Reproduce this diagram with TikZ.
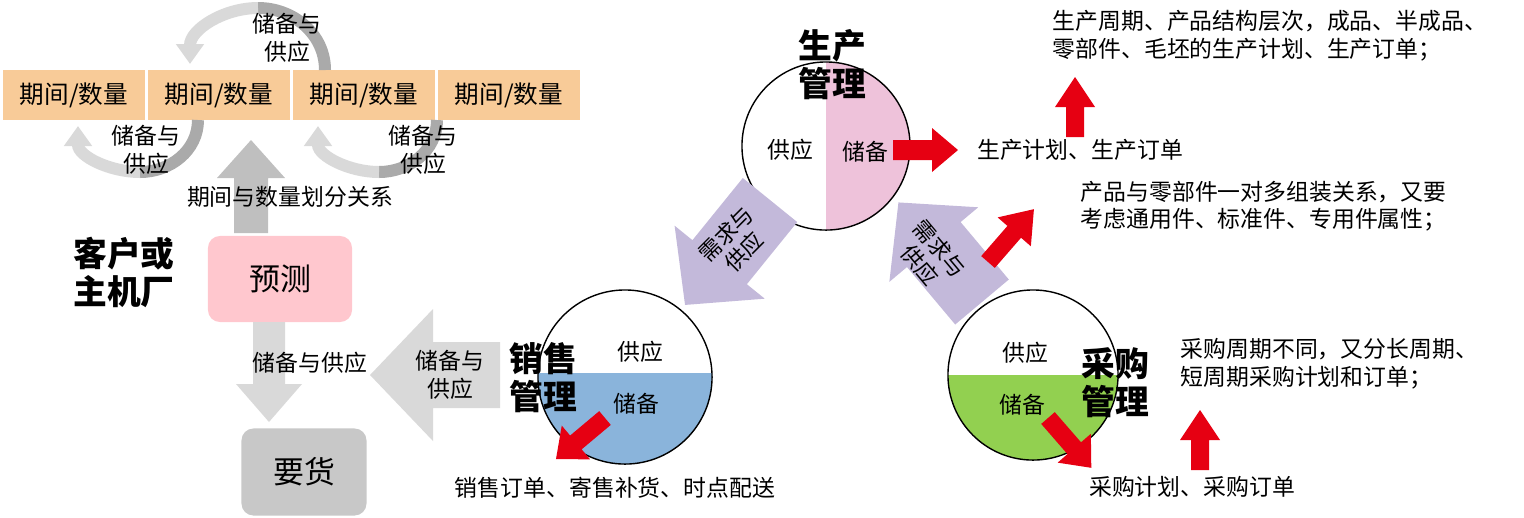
\documentclass[tikz,border=0pt]{standalone}
\usepackage{fontspec}
\setmainfont{Noto Sans CJK SC}
\usetikzlibrary{calc}
\usetikzlibrary{arrows.meta}
\usetikzlibrary{positioning}
\definecolor{peach}{RGB}{248, 203, 152}
\definecolor{rose}{RGB}{255, 199, 206}
\definecolor{stone}{RGB}{200, 200, 200}
\definecolor{lilac}{RGB}{195, 185, 218}
\definecolor{signal}{RGB}{230, 0, 18}
\definecolor{orchid}{RGB}{238, 194, 218}
\definecolor{sky}{RGB}{138, 180, 219}
\definecolor{leaf}{RGB}{146, 208, 80}
\definecolor{ash}{RGB}{217, 217, 217}
\definecolor{slate}{RGB}{170, 170, 170}
% block arrow: colour, start, angle, length, half shaft, half head, head length
\newcommand{\blockarr}[7]{%
  \fill[#1, shift={(#2)}, rotate=#3] (0,-#5) -- ({#4-#7},-#5) -- ({#4-#7},-#6) -- (#4,0)
       -- ({#4-#7},#6) -- ({#4-#7},#5) -- (0,#5) -- cycle;}
\tikzset{
  txt/.style={font=\fontsize{6.5}{7.9}\selectfont, inner sep=0pt, align=center},
  note/.style={txt, align=left, anchor=north west},
  head/.style={font=\fontsize{9.6}{10.8}\selectfont\bfseries, inner sep=0pt, align=left},
  period/.style={fill=peach, minimum width=1.42cm, minimum height=0.5cm, inner sep=0pt,
                 font=\fontsize{7}{8}\selectfont},
  loopdark/.style={draw=slate, line width=0.12cm},
  looplight/.style={draw=ash, line width=0.12cm, -{Triangle[width=0.27cm,length=0.2cm]}},
  disc/.style={draw, thin, circle, minimum size=1.68cm, inner sep=0pt},
  boxtxt/.style={font=\fontsize{8.8}{10}\selectfont}
}
\begin{document}
\begin{tikzpicture}[x=0.01cm, y=-0.01cm]
\useasboundingbox (0,0) rectangle (1524,517);
% period boxes
\node[period] (p1) at (74,95) {期间/数量};
\node[period] (p2) at (219,95) {期间/数量};
\node[period] (p3) at (364,95) {期间/数量};
\node[period] (p4) at (509,95) {期间/数量};
% loops
\draw[loopdark] (325,70) to[out=90,in=0] (258,8);
\draw[looplight] (258,8) to[out=180,in=90] (190,64);
\draw[loopdark] (198,120) to[out=-90,in=0] (140,172);
\draw[looplight] (140,172) to[out=180,in=-90] (78,126);
\draw[loopdark] (437,120) to[out=-90,in=0] (379,172);
\draw[looplight] (379,172) to[out=180,in=-90] (318,126);
\node[txt] (l1) at (287,38) {储备与\\供应};
\node[txt] (l2) at (146,150) {储备与\\供应};
\node[txt] (l3) at (423,150) {储备与\\供应};
% customer side
\blockarr{black!25}{251,233}{90}{93}{17}{34}{38}
\node[txt] (split) at (290,197) {期间与数量划分关系};
\node[fill=rose, rounded corners=0.12cm, minimum width=1.44cm, minimum height=0.86cm,
      boxtxt] (fc) at (280,279) {预测};
\node[head] (cust) at (124,272) {客户或\\主机厂};
\blockarr{ash}{269,322}{270}{100}{16}{33}{38}
\node[txt] (rs) at (310,363) {储备与供应};
\node[fill=stone, rounded corners=0.12cm, minimum width=1.25cm, minimum height=0.87cm,
      boxtxt] (dem) at (304,472) {要货};
\blockarr{ash}{500,375}{180}{130}{33}{66}{63}
\node[txt] (rs2) at (450,375) {储备与\\供应};
% sales
\begin{scope}
  \clip (625,377) circle[radius=0.87cm];
  \fill[sky] (530,373) rectangle (720,470);
\end{scope}
\node[disc, minimum size=1.74cm] (sales) at (625,377) {};
\node[head] (salesh) at (543,378) {销售\\管理};
\node[txt] (s1) at (640,352) {供应};
\node[txt] (s2) at (636,404) {储备};
\blockarr{signal}{605,418}{220}{64}{9}{22}{26}
\node[txt] (s3) at (615,488) {销售订单、寄售补货、时点配送};
% production
\begin{scope}
  \clip (826,146) circle[radius=0.84cm];
  \fill[orchid] (826,50) rectangle (920,240);
\end{scope}
\node[disc] (prod) at (826,146) {};
\node[head] (prodh) at (832,65) {生产\\管理};
\node[txt] (pr1) at (790,150) {供应};
\node[txt] (pr2) at (865,152) {储备};
\blockarr{signal}{893,150}{0}{65}{10}{22}{26}
\node[txt] (pr3) at (1080,150) {生产计划、生产订单};
\blockarr{signal}{1075,137}{90}{60}{9}{20}{30}
\node[note] (pr4) at (1052,10) {生产周期、产品结构层次，成品、半成品、\\零部件、毛坯的生产计划、生产订单；};
\blockarr{lilac}{770,200}{231}{135}{35}{58}{55}
\node[txt, rotate=45, font=\fontsize{6.3}{7.2}\selectfont] (dm1) at (735,243) {需求与\\供应};
\blockarr{lilac}{982,302}{130}{130}{35}{58}{55}
\node[txt, rotate=-50, font=\fontsize{6.3}{7.2}\selectfont] (dm2) at (930,257) {需求与\\供应};
\blockarr{signal}{988,262}{49}{70}{9}{22}{30}
\node[note] (pr5) at (1080,180) {产品与零部件一对多组装关系，又要\\考虑通用件、标准件、专用件属性；};
% purchasing
\begin{scope}
  \clip (1033,375) circle[radius=0.85cm];
  \fill[leaf] (940,375) rectangle (1130,470);
\end{scope}
\node[disc, minimum size=1.7cm] (buy) at (1033,375) {};
\node[head] (buyh) at (1115,383) {采购\\管理};
\node[txt] (b1) at (1025,353) {供应};
\node[txt] (b2) at (1022,405) {储备};
\blockarr{signal}{1048,418}{-49}{66}{9}{22}{26}
\node[txt] (b3) at (1192,487) {采购计划、采购订单};
\blockarr{signal}{1200,470}{90}{60}{9}{20}{30}
\node[note] (b4) at (1180,338) {采购周期不同，又分长周期、\\短周期采购计划和订单；};
\end{tikzpicture}
\end{document}
